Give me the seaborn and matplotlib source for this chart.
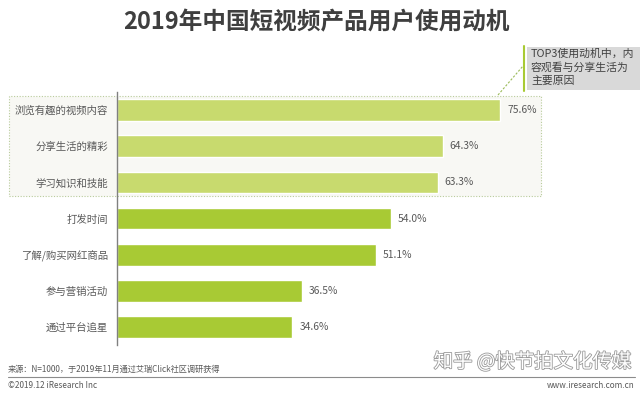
import matplotlib
matplotlib.use("Agg")
import matplotlib.pyplot as plt
import matplotlib.patheffects as pe
from matplotlib.patches import Rectangle
from matplotlib.lines import Line2D
import seaborn as sns
import pandas as pd

categories = ["浏览有趣的视频内容", "分享生活的精彩", "学习知识和技能", "打发时间",
              "了解/购买网红商品", "参与营销活动", "通过平台追星"]
values = [75.6, 64.3, 63.3, 54.0, 51.1, 36.5, 34.6]
value_labels = ["75.6%", "64.3%", "63.3%", "54.0%", "51.1%", "36.5%", "34.6%"]
title = "2019年中国短视频产品用户使用动机"
callout = "TOP3使用动机中，内\n容观看与分享生活为\n主要原因"
source = "来源：N=1000，于2019年11月通过艾瑞Click社区调研获得"
copyright_txt = "©2019.12 iResearch Inc"
site = "www.iresearch.com.cn"
watermark = "知乎 @快节拍文化传媒"

sns.set_theme(style="white")
plt.rcParams['font.family'] = ['Noto Sans CJK SC', 'DejaVu Sans']

W, H = 640, 399
fig = plt.figure(figsize=(6.4, 3.99), dpi=100)

def fx(x):
    return x / W

def fy(y):
    return 1 - y / H

# axes: 0 at x=117, 5.066 px per unit; bars centred 110..327
ax_left = 117
ax_w = 5.066 * 100
ax_top = 91.9
ax_h = 7 * 36.2
ax = fig.add_axes([fx(ax_left), fy(ax_top + ax_h), ax_w / W, ax_h / H])

df = pd.DataFrame({"cat": categories, "val": values})
colors = ["#c8da6e"] * 3 + ["#a8ca34"] * 4
sns.barplot(data=df, x="val", y="cat", hue="cat", palette=colors, legend=False,
            orient="h", width=0.6, ax=ax, saturation=1)
ax.set_xlim(0, 100)
ax.set_ylim(6.5, -0.5)
ax.set_xlabel("")
ax.set_ylabel("")
ax.set_xticks([])
for s in ["top", "right", "bottom"]:
    ax.spines[s].set_visible(False)
ax.spines["left"].set_color("#808080")
ax.spines["left"].set_linewidth(1.0)
ax.tick_params(axis="y", length=0, pad=6.5, labelsize=7.5, labelcolor="#595959")
ax.patch.set_alpha(0)

for i, (v, lab) in enumerate(zip(values, value_labels)):
    ax.text(v + 1.4, i, lab, va="center", ha="left", fontsize=7.4, color="#595959")

# dotted box around top 3
fig.add_artist(Rectangle((fx(9), fy(196)), (541 - 9) / W, (196 - 96) / H,
                         transform=fig.transFigure, facecolor="#f8f8f4",
                         edgecolor="#b9cc9c", linestyle=(0, (1, 1.5)), linewidth=0.8,
                         zorder=0))

# title
fig.text(fx(316), fy(22), title, ha="center", va="center", fontsize=17,
         fontweight="bold", color="#3f3f3f")

# callout
fig.add_artist(Rectangle((fx(527), fy(90)), (640 - 527) / W, (90 - 47) / H,
                         transform=fig.transFigure, facecolor="#d9d9d9",
                         edgecolor="none"))
fig.add_artist(Line2D([fx(524), fx(524)], [fy(46), fy(91)], transform=fig.transFigure,
                      color="#a8ca34", linewidth=1.5))
fig.add_artist(Line2D([fx(498), fx(523)], [fy(95), fy(66)], transform=fig.transFigure,
                      color="#9bbb59", linewidth=0.8, linestyle=(0, (2, 1.5))))
fig.text(fx(531), fy(49), callout, ha="left", va="top", fontsize=7.8,
         color="#404040", linespacing=1.35)

# footer
fig.text(fx(8), fy(369), source, ha="left", va="center", fontsize=5.9, color="#595959")
fig.add_artist(Line2D([fx(8), fx(635)], [fy(377), fy(377)], transform=fig.transFigure,
                      color="#8c8c8c", linewidth=0.8))
fig.text(fx(8), fy(386), copyright_txt, ha="left", va="center", fontsize=5.9, color="#595959")
fig.text(fx(635), fy(386), site, ha="right", va="center", fontsize=5.9, color="#595959")

wm = fig.text(fx(632), fy(362), watermark, ha="right", va="center", fontsize=14,
              color="white")
wm.set_path_effects([pe.withStroke(linewidth=1.2, foreground="#9a9a9a")])

fig.savefig("out.png", dpi=100)
